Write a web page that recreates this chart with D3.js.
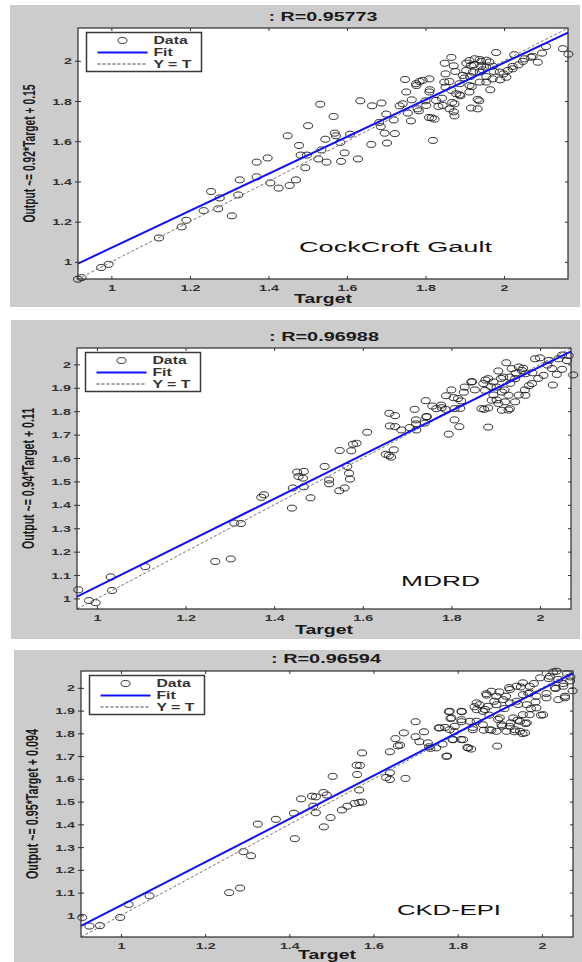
<!DOCTYPE html>
<html>
<head>
<meta charset="utf-8">
<title>Regression plots</title>
<script src="https://cdn.jsdelivr.net/npm/d3@7"></script>
<style>
body { margin: 0; background: #fff; }
svg text { font-family: "Liberation Sans", Arial, sans-serif; }
</style>
</head>
<body>
<div id="chart"></div>
<script>

// ---- data ----
var panelNames = ["CockCroft Gault", "MDRD", "CKD-EPI"];
var rValues = ["0.95773", "0.96988", "0.96594"];
var fitSlope = [0.92, 0.94, 0.95];
var fitIntercept = [0.15, 0.11, 0.094];
var yLabels = ["Output ~= 0.92*Target + 0.15", "Output ~= 0.94*Target + 0.11", "Output ~= 0.95*Target + 0.094"];
var axisMin = [0.915, 0.955, 0.905];
var axisMax = [2.163, 2.07, 2.074];
var legendLabels = ["Data", "Fit", "Y = T"];
var xTicks = [1, 1.2, 1.4, 1.6, 1.8, 2];
var yTicksCG = [1, 1.2, 1.4, 1.6, 1.8, 2];
var yTicksTenth = [1, 1.1, 1.2, 1.3, 1.4, 1.5, 1.6, 1.7, 1.8, 1.9, 2];

// [target, output]
var cgPoints = [
  [0.915,0.914],[0.924,0.922],[0.974,0.972],[0.993,0.988],[1.121,1.119],[1.179,1.174],[1.191,1.207],[1.235,1.255],
  [1.254,1.35],[1.272,1.264],[1.276,1.318],[1.307,1.229],[1.323,1.333],[1.327,1.408],[1.37,1.496],[1.37,1.423],
  [1.398,1.517],[1.405,1.393],[1.426,1.367],[1.449,1.627],[1.454,1.38],[1.47,1.408],[1.478,1.579],[1.482,1.531],
  [1.498,1.531],[1.494,1.468],[1.501,1.677],[1.527,1.512],[1.532,1.784],[1.535,1.557],[1.548,1.496],[1.545,1.61],
  [1.566,1.723],[1.569,1.64],[1.572,1.627],[1.583,1.594],[1.585,1.5],[1.594,1.542],[1.608,1.635],[1.628,1.512],
  [1.634,1.801],[1.664,1.776],[1.662,1.584],[1.688,1.79],[1.682,1.693],[1.686,1.673],[1.7,1.735],[1.702,1.591],
  [1.696,1.64],[1.719,1.706],[1.722,1.638],[1.734,1.776],[1.748,1.907],[1.755,1.74],[1.763,1.701],[1.765,1.806],
  [1.777,1.877],[1.785,1.897],[1.783,1.751],[1.8,1.801],[1.81,1.91],[1.811,1.856],[1.816,1.716],[1.819,1.604],
  [1.823,1.71],[1.833,1.773],[1.842,1.814],[1.849,1.988],[1.851,1.869],[1.851,1.935],[1.861,1.897],[1.866,2.017],
  [1.868,1.793],[1.872,1.746],[1.874,1.726],[1.872,1.975],[1.876,1.947],[1.887,1.831],[1.889,1.826],[1.899,1.914],
  [1.904,1.988],[1.916,1.765],[1.914,1.922],[1.918,1.872],[1.923,1.98],[1.937,1.801],[1.942,1.997],[1.946,1.955],
  [1.955,1.922],[1.965,1.856],[1.98,2.041],[1.974,1.947],[1.99,1.905],[1.999,1.935],[2.01,1.952],[2.026,2.03],
  [2.022,1.972],[2.037,1.98],[2.048,1.997],[2.073,2.022],[2.086,1.993],[2.097,2.038],[2.107,2.071],[2.15,2.06],
  [2.164,2.033],[1.912,2.001],[1.925,2.01],[1.938,2.006],[1.955,2.003],[1.963,1.994],[1.916,1.977],[1.942,1.973],
  [1.955,1.968],[1.971,1.973],[1.904,1.952],[1.921,1.944],[1.938,1.944],[1.895,1.927],[1.989,1.944],[2.022,1.96],
  [2.052,2.01],[2.069,2.018],[2.006,1.918],[1.971,1.91],[1.955,1.894],[1.938,1.894],[1.912,1.877],[1.887,1.886],
  [1.848,1.894],[1.866,1.853],[1.878,1.836],[1.912,1.845],[1.933,1.808],[1.874,1.786],[1.861,1.761],[1.844,1.778],
  [1.827,1.803],[1.81,1.845],[1.793,1.903],[1.776,1.886],[1.751,1.845],[1.742,1.786],[1.78,1.761],[1.802,1.778],
  [1.809,1.718],[1.933,1.761]
];

var mdrdPoints = [
  [0.958,1.037],[0.982,0.991],[0.997,0.982],[1.031,1.092],[1.034,1.034],[1.109,1.136],[1.267,1.158],[1.302,1.169],
  [1.31,1.322],[1.325,1.32],[1.371,1.432],[1.377,1.443],[1.44,1.386],[1.442,1.472],[1.452,1.54],[1.467,1.543],
  [1.455,1.521],[1.465,1.514],[1.467,1.477],[1.482,1.43],[1.514,1.564],[1.524,1.506],[1.524,1.49],[1.547,1.46],
  [1.559,1.472],[1.548,1.632],[1.565,1.564],[1.569,1.535],[1.571,1.51],[1.574,1.631],[1.578,1.659],[1.586,1.663],
  [1.61,1.71],[1.652,1.616],[1.659,1.611],[1.664,1.604],[1.67,1.635],[1.66,1.791],[1.673,1.781],[1.661,1.737],
  [1.673,1.734],[1.687,1.72],[1.706,1.73],[1.717,1.808],[1.72,1.763],[1.721,1.72],[1.72,1.746],[1.74,1.749],
  [1.742,1.845],[1.745,1.777],[1.757,1.822],[1.778,1.815],[1.788,1.866],[1.787,1.808],[1.794,1.702],[1.8,1.891],
  [1.805,1.858],[1.807,1.763],[1.818,1.734],[1.82,1.812],[1.822,1.844],[1.828,1.881],[1.847,1.926],[1.853,1.891],
  [1.874,1.808],[1.877,1.933],[1.883,1.732],[1.889,1.905],[1.895,1.869],[1.906,1.972],[1.902,1.848],[1.912,1.94],
  [1.92,1.891],[1.924,2.007],[1.929,1.805],[1.933,1.919],[1.945,1.962],[1.952,1.869],[1.962,1.983],[1.966,1.891],
  [1.975,1.909],[1.983,1.964],[2.0,2.028],[1.996,1.94],[2.017,1.997],[2.029,1.912],[2.038,1.957],[2.05,1.979],
  [2.05,2.04],[2.075,1.955],[2.061,2.016],[1.936,1.982],[1.952,1.989],[1.959,1.974],[1.967,1.96],[1.917,1.946],
  [1.932,1.946],[1.944,1.939],[1.883,1.939],[1.895,1.925],[1.872,1.918],[1.876,1.889],[1.902,1.903],[1.914,1.882],
  [1.929,1.868],[2.02,2.017],[2.042,2.024],[2.065,2.038],[2.027,1.982],[2.008,1.953],[1.982,1.918],[1.967,1.868],
  [1.944,1.84],[1.921,1.84],[1.906,1.833],[1.891,1.847],[1.868,1.811],[1.883,1.814],[1.914,1.804],[1.932,1.811],
  [1.845,1.925],[1.83,1.903],[1.777,1.826],[1.815,1.854],[1.807,1.811],[1.766,1.811],[1.743,1.776],[1.989,2.024]
];

var ckdPoints = [
  [0.908,0.991],[0.925,0.953],[0.95,0.955],[0.998,0.991],[1.018,1.048],[1.068,1.086],[1.257,1.1],[1.283,1.12],
  [1.291,1.28],[1.309,1.262],[1.325,1.401],[1.368,1.422],[1.411,1.449],[1.413,1.337],[1.428,1.512],[1.454,1.524],
  [1.463,1.521],[1.457,1.48],[1.463,1.451],[1.481,1.54],[1.482,1.389],[1.489,1.529],[1.498,1.43],[1.503,1.611],
  [1.525,1.463],[1.538,1.48],[1.555,1.492],[1.561,1.619],[1.56,1.66],[1.568,1.659],[1.566,1.551],[1.566,1.496],
  [1.573,1.498],[1.573,1.714],[1.63,1.606],[1.639,1.627],[1.639,1.597],[1.639,1.719],[1.652,1.777],[1.658,1.745],
  [1.663,1.748],[1.672,1.802],[1.676,1.602],[1.7,1.851],[1.7,1.785],[1.709,1.763],[1.72,1.807],[1.729,1.758],
  [1.735,1.734],[1.732,1.741],[1.755,1.824],[1.764,1.753],[1.775,1.7],[1.77,1.826],[1.779,1.895],[1.783,1.865],
  [1.788,1.773],[1.792,1.807],[1.808,1.773],[1.81,1.895],[1.809,1.851],[1.823,1.738],[1.832,1.731],[1.836,1.826],
  [1.84,1.917],[1.845,1.934],[1.862,1.814],[1.865,1.905],[1.869,1.968],[1.875,1.88],[1.88,1.814],[1.894,1.744],
  [1.887,1.941],[1.896,1.861],[1.899,1.982],[1.906,1.832],[1.911,1.909],[1.915,1.963],[1.922,2.001],[1.926,1.846],
  [1.935,1.807],[1.942,1.858],[1.944,1.927],[1.95,2.004],[1.954,1.799],[1.961,1.843],[1.968,1.975],[1.974,1.909],
  [1.981,2.019],[1.985,1.938],[1.998,1.88],[1.996,2.044],[2.011,1.975],[2.016,2.041],[2.027,2.07],[2.033,1.997],
  [2.039,2.037],[2.051,2.019],[2.055,1.956],[2.068,2.048],[2.073,1.987],[2.06,2.062],[2.035,2.073],[2.019,2.051],
  [2.067,2.03],[2.051,2.007],[2.031,2.0],[1.971,2.007],[1.955,2.022],[1.94,2.007],[1.924,1.993],[1.971,1.978],
  [1.955,1.97],[1.987,1.963],[2.011,1.956],[2.039,1.948],[2.055,1.963],[1.94,1.941],[1.924,1.934],[1.908,1.948],
  [1.892,1.963],[1.88,1.985],[1.868,1.974],[1.892,1.926],[1.872,1.919],[1.852,1.926],[1.845,1.904],[1.86,1.897],
  [1.964,1.926],[1.987,1.912],[2.003,1.882],[1.955,1.882],[1.932,1.868],[1.9,1.868],[1.904,1.838],[1.924,1.831],
  [1.948,1.853],[1.964,1.846],[1.971,1.882],[1.948,1.809],[1.96,1.802],[1.936,1.816],[1.916,1.809],[1.892,1.809],
  [1.876,1.816],[1.86,1.838],[1.845,1.853],[1.829,1.853],[1.809,1.897],[1.781,1.897],[1.809,1.86],[1.785,1.868],
  [1.793,1.831],[1.836,1.816],[1.781,1.816],[1.757,1.824],[1.813,1.772],[1.789,1.772],[1.749,1.736],[1.825,1.736],
  [1.773,1.699]
];

var panelPoints = [cgPoints, mdrdPoints, ckdPoints];
var panelYTicks = [yTicksCG, yTicksTenth, yTicksTenth];

// ---- page geometry (pixels) ----
var layout = [
  { bg: [10, 5, 570, 302], left: 78, top: 28, right: 568, bottom: 279,
    titleX: 323, titleY: 21, titleLen: 109, xlabY: 303, ylabX: 29.5, ylabLen: 138,
    noteX: 299, noteY: 252, noteLen: 193 },
  { bg: [11, 320, 569, 319], left: 77, top: 348, right: 571, bottom: 609,
    titleX: 324, titleY: 341, titleLen: 110, xlabY: 634, ylabX: 28.5, ylabLen: 141,
    noteX: 401, noteY: 586, noteLen: 79 },
  { bg: [14, 650, 568, 312], left: 81, top: 671, right: 573, bottom: 937,
    titleX: 326, titleY: 663, titleLen: 110, xlabY: 958.5, ylabX: 32, ylabLen: 150,
    noteX: 397, noteY: 915, noteLen: 104 }
];
var K = 1.5;   // the picture is stretched sideways

var svg = d3.select("#chart").append("svg")
    .attr("width", 582)
    .attr("height", 962);

function stretch(sel, k) {
  sel.each(function() {
    var len = this.getComputedTextLength();
    d3.select(this)
      .attr("textLength", len * k)
      .attr("lengthAdjust", "spacingAndGlyphs");
  });
}

function fmt(d) { return String(d); }

layout.forEach(function(L, i) {
  var pts = panelPoints[i];

  svg.append("rect")
    .attr("x", L.bg[0]).attr("y", L.bg[1])
    .attr("width", L.bg[2]).attr("height", L.bg[3])
    .attr("fill", "#cccccc");

  svg.append("rect")
    .attr("x", L.left).attr("y", L.top)
    .attr("width", L.right - L.left).attr("height", L.bottom - L.top)
    .attr("fill", "#ffffff");

  var x = d3.scaleLinear().domain([axisMin[i], axisMax[i]]).range([L.left, L.right]);
  var y = d3.scaleLinear().domain([axisMin[i], axisMax[i]]).range([L.bottom, L.top]);

  // data circles
  svg.append("g")
    .selectAll("ellipse")
    .data(pts)
    .enter().append("ellipse")
      .attr("cx", function(d) { return x(d[0]); })
      .attr("cy", function(d) { return y(d[1]); })
      .attr("rx", 4.5)
      .attr("ry", 3)
      .attr("fill", "none")
      .attr("stroke", "#1a1a1a")
      .attr("stroke-width", 0.9);

  // Y = T
  svg.append("line")
    .attr("x1", x(axisMin[i])).attr("y1", y(axisMin[i]))
    .attr("x2", x(axisMax[i])).attr("y2", y(axisMax[i]))
    .attr("stroke", "#777")
    .attr("stroke-width", 1)
    .attr("stroke-dasharray", "3,2");

  // fit
  var f = function(t) { return fitSlope[i] * t + fitIntercept[i]; };
  svg.append("line")
    .attr("x1", x(axisMin[i])).attr("y1", y(f(axisMin[i])))
    .attr("x2", x(axisMax[i])).attr("y2", y(f(axisMax[i])))
    .attr("stroke", "#1010ff")
    .attr("stroke-width", 2);

  // axes
  var gb = svg.append("g")
    .attr("transform", "translate(0," + L.bottom + ")")
    .call(d3.axisBottom(x).tickValues(xTicks).tickFormat(fmt)
      .tickSizeInner(-3).tickSizeOuter(0).tickPadding(5));
  var gt = svg.append("g")
    .attr("transform", "translate(0," + L.top + ")")
    .call(d3.axisTop(x).tickValues(xTicks).tickFormat("")
      .tickSizeInner(-3).tickSizeOuter(0));
  var gl = svg.append("g")
    .attr("transform", "translate(" + L.left + ",0)")
    .call(d3.axisLeft(y).tickValues(panelYTicks[i]).tickFormat(fmt)
      .tickSizeInner(-3).tickSizeOuter(0).tickPadding(6));
  var gr = svg.append("g")
    .attr("transform", "translate(" + L.right + ",0)")
    .call(d3.axisRight(y).tickValues(panelYTicks[i]).tickFormat("")
      .tickSizeInner(-3).tickSizeOuter(0));

  [gb, gt, gl, gr].forEach(function(g) {
    g.select(".domain").remove();
    g.selectAll("line").attr("stroke", "#333");
    g.selectAll("text")
      .attr("font-family", "Liberation Sans, Arial, sans-serif")
      .attr("font-size", 9.5)
      .attr("font-weight", "bold")
      .attr("fill", "#333");
  });
  // small outward marks on the left side
  gl.selectAll(".tick").append("line")
    .attr("x1", -3).attr("x2", 0).attr("stroke", "#333");

  stretch(gb.selectAll("text"), K);
  stretch(gl.selectAll("text"), K);

  // box
  svg.append("rect")
    .attr("x", L.left).attr("y", L.top)
    .attr("width", L.right - L.left).attr("height", L.bottom - L.top)
    .attr("fill", "none")
    .attr("stroke", "#2b2b2b")
    .attr("stroke-width", 1.2);

  // title
  svg.append("text")
    .attr("x", L.titleX).attr("y", L.titleY)
    .attr("text-anchor", "middle")
    .attr("font-size", 12.5)
    .attr("font-weight", "bold")
    .attr("fill", "#1a1a1a")
    .attr("textLength", L.titleLen)
    .attr("lengthAdjust", "spacingAndGlyphs")
    .text(": R=" + rValues[i]);

  // x label
  svg.append("text")
    .attr("x", (L.left + L.right) / 2).attr("y", L.xlabY)
    .attr("text-anchor", "middle")
    .attr("font-size", 12.5)
    .attr("font-weight", "bold")
    .attr("fill", "#1a1a1a")
    .attr("textLength", 58)
    .attr("lengthAdjust", "spacingAndGlyphs")
    .text("Target");

  // y label
  svg.append("text")
    .attr("transform", "translate(" + L.ylabX + "," + ((L.top + L.bottom) / 2) + ") scale(" + K + ",1) rotate(-90)")
    .attr("text-anchor", "middle")
    .attr("dy", "0.35em")
    .attr("font-size", 10.5)
    .attr("font-weight", "bold")
    .attr("fill", "#1a1a1a")
    .attr("textLength", L.ylabLen)
    .attr("lengthAdjust", "spacingAndGlyphs")
    .text(yLabels[i]);

  // method name
  svg.append("text")
    .attr("x", L.noteX).attr("y", L.noteY)
    .attr("font-family", "DejaVu Sans, Verdana, sans-serif")
    .attr("font-size", 15.5)
    .attr("fill", "#111")
    .attr("textLength", L.noteLen)
    .attr("lengthAdjust", "spacingAndGlyphs")
    .text(panelNames[i]);

  // legend
  var lx = L.left + 8.5, ly = L.top + 4.5;
  var lg = svg.append("g").attr("transform", "translate(" + lx + "," + ly + ")");
  lg.append("rect")
    .attr("width", 115).attr("height", 39)
    .attr("fill", "#fff")
    .attr("stroke", "#3a3a3a")
    .attr("stroke-width", 1.5);
  var rowY = [8, 20, 31.5];
  lg.append("ellipse")
    .attr("cx", 36).attr("cy", rowY[0])
    .attr("rx", 4.5).attr("ry", 3)
    .attr("fill", "none").attr("stroke", "#1a1a1a").attr("stroke-width", 0.9);
  lg.append("line")
    .attr("x1", 11).attr("x2", 61).attr("y1", rowY[1]).attr("y2", rowY[1])
    .attr("stroke", "#1010ff").attr("stroke-width", 2);
  lg.append("line")
    .attr("x1", 11).attr("x2", 61).attr("y1", rowY[2]).attr("y2", rowY[2])
    .attr("stroke", "#444").attr("stroke-width", 1).attr("stroke-dasharray", "3,2");
  var lt = lg.selectAll("text.leg")
    .data(legendLabels)
    .enter().append("text")
      .attr("class", "leg")
      .attr("x", 67)
      .attr("y", function(d, j) { return rowY[j]; })
      .attr("dy", "0.35em")
      .attr("font-size", 10.5)
      .attr("font-weight", "bold")
      .attr("fill", "#333")
      .text(function(d) { return d; });
  stretch(lt, K);
});
</script>
</body>
</html>
